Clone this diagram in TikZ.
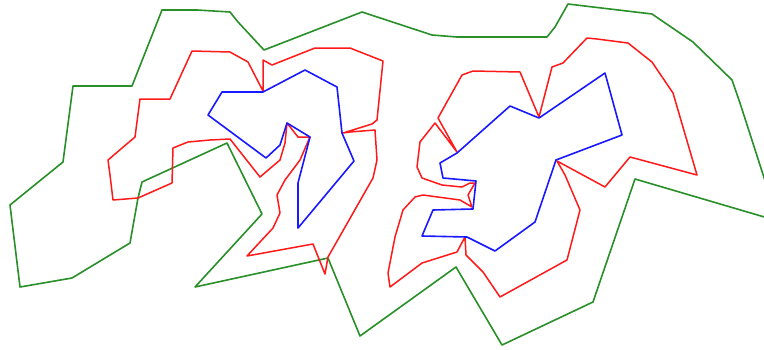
\documentclass[tikz,border=0pt]{standalone}
\usepackage{tikz}
\definecolor{verdebosque}{rgb}{0.16,0.56,0.16}
\definecolor{rojopuro}{rgb}{1,0.1,0.1}
\definecolor{azulpuro}{rgb}{0.1,0.1,1}
\tikzset{
  nucleo/.style={
    draw=azulpuro,
    line width=1.6pt,
    line join=round
  },
  margen/.style={
    draw=rojopuro,
    line width=1.5pt,
    line join=round
  },
  contorno/.style={
    draw=verdebosque,
    line width=1.6pt,
    line join=round
  }
}

\begin{document}
\begin{tikzpicture}[x=1pt,y=-1pt]
\useasboundingbox[fill=white] (0,0) rectangle (764,349);
\clip (0,0) rectangle (764,349);
% outer outline
\draw[contorno] (162,10) -- (197,10) -- (230,12) -- (238,22) -- (264,50)
  -- (362,12) -- (432,35) -- (457,37) -- (547,37) -- (555,27) -- (568,4)
  -- (593,7) -- (652,14) -- (693,42) -- (732,80) -- (740,103) -- (778,221)
  -- (635,179) -- (593,302) -- (502,345) -- (456,267) -- (360,336)
  -- (328,258) -- (195,287) -- (262,214) -- (227,143) -- (142,182)
  -- (138,198) -- (130,243) -- (72,278) -- (20,287) -- (10,205)
  -- (63,162) -- (73,86) -- (132,86) -- cycle;
% left polygon and its offset
\draw[margen] (192,51) -- (230,52) -- (248,62) -- (263,91) -- (263,60)
  -- (272,65) -- (315,48) -- (350,48) -- (383,61) -- (377,120) -- (372,124)
  -- (343,133) -- (350,132) -- (375,130) -- (377,160) -- (373,178)
  -- (328,257) -- (325,274) -- (313,244) -- (247,256) -- (273,228)
  -- (280,213) -- (277,195) -- (285,180) -- (300,160) -- (310,137)
  -- (298,137) -- (287,123) -- (285,143) -- (280,160) -- (260,177)
  -- (230,139) -- (210,140) -- (188,142) -- (173,148) -- (172,183)
  -- (138,198) -- (113,200) -- (110,175) -- (108,160) -- (135,137)
  -- (140,99) -- (170,99) -- cycle;
\draw[nucleo] (222,92) -- (263,92) -- (305,70) -- (337,87) -- (342,133)
  -- (354,161) -- (298,228) -- (298,183) -- (310,137) -- (287,123)
  -- (280,145) -- (266,158) -- (208,115) -- cycle;
% right polygon and its offset
\draw[margen] (438,118) -- (462,75) -- (473,71) -- (520,72) -- (539,117)
  -- (552,67) -- (563,63) -- (587,38) -- (597,39) -- (628,43) -- (652,62)
  -- (673,93) -- (697,175) -- (630,157) -- (605,187) -- (557,161)
  -- (565,175) -- (580,210) -- (567,260) -- (500,297) -- (483,272)
  -- (466,255) -- (465,237) -- (457,252) -- (422,263) -- (390,287)
  -- (388,273) -- (395,237) -- (403,210) -- (415,197) -- (423,195)
  -- (460,200) -- (472,207) -- (468,195) -- (475,183) -- (470,183)
  -- (462,187) -- (442,185) -- (422,178) -- (417,167) -- (420,142)
  -- (435,123) -- (457,152) -- cycle;
\draw[nucleo] (440,163) -- (457,153) -- (510,106) -- (539,118) -- (605,73)
  -- (622,135) -- (556,160) -- (535,222) -- (495,251) -- (467,237)
  -- (422,236) -- (433,210) -- (473,209) -- (476,181) -- (443,178) -- cycle;
\end{tikzpicture}
\end{document}
